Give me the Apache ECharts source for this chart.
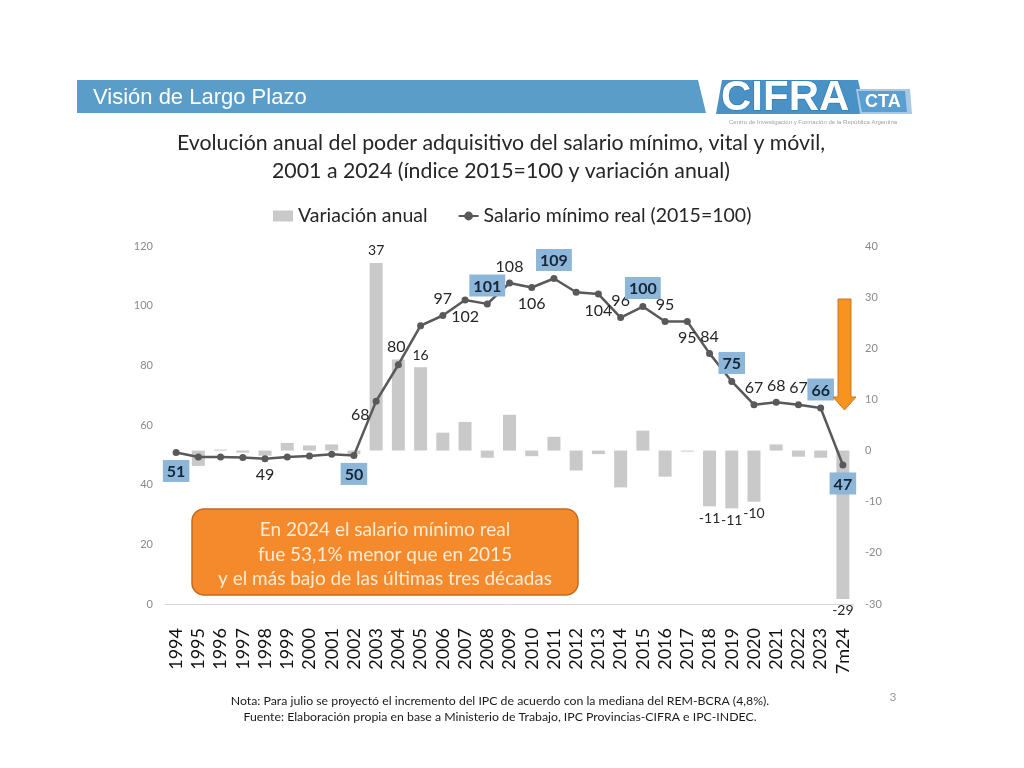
<!DOCTYPE html>
<html>
<head>
<meta charset="utf-8">
<script src="https://cdn.jsdelivr.net/npm/echarts@6/dist/echarts.min.js"></script>
<style>
html,body{margin:0;padding:0;background:#fff;}
#chart{width:1024px;height:768px;}
</style>
</head>
<body>
<div id="chart"></div>
<script>
// ---- Data ----
const categories = ['1994','1995','1996','1997','1998','1999','2000','2001','2002','2003','2004','2005','2006','2007','2008','2009','2010','2011','2012','2013','2014','2015','2016','2017','2018','2019','2020','2021','2022','2023','7m24'];
const variacionAnual = [0, -3.0, 0.2, -0.4, -1.0, 1.5, 1.0, 1.2, -0.7, 36.7, 17.8, 16.3, 3.5, 5.6, -1.4, 7.0, -1.1, 2.7, -3.9, -0.7, -7.2, 3.9, -5.1, -0.2, -10.9, -11.3, -10.0, 1.2, -1.2, -1.4, -29.0];
const salarioReal = [50.8, 49.3, 49.3, 49.1, 48.7, 49.3, 49.6, 50.2, 49.8, 68.0, 80.2, 93.3, 96.7, 101.9, 100.6, 107.6, 106.1, 109.1, 104.5, 103.9, 96.0, 99.7, 94.7, 94.7, 84.0, 74.6, 66.8, 67.6, 66.8, 65.7, 46.6];
const leftAxisTicks = [0, 20, 40, 60, 80, 100, 120];
const rightAxisTicks = [-30, -20, -10, 0, 10, 20, 30, 40];
const titleLines = ['Evolución anual del poder adquisitivo del salario mínimo, vital y móvil,', '2001 a 2024 (índice 2015=100 y variación anual)'];
const calloutLines = ['En 2024 el salario mínimo real', 'fue 53,1% menor que en 2015', 'y el más bajo de las últimas tres décadas'];
const notes = ['Nota: Para julio se proyectó el incremento del IPC de acuerdo con la mediana del REM-BCRA (4,8%).', 'Fuente: Elaboración propia en base a Ministerio de Trabajo, IPC Provincias-CIFRA e IPC-INDEC.'];

// ---- Label layout (styling, not data) ----
const lineLabelPos = {0:'bottom',4:'bottom',8:'bottom',9:'left',10:'top',12:'top',13:'bottom',14:'top',15:'top',16:'bottom',17:'top',19:'bottom',20:'top',21:'top',22:'top',23:'bottom',24:'top',25:'top',26:'top',27:'top',28:'top',29:'top',30:'bottom'};
const boxedIdx = [0,8,14,17,21,25,29,30];
const barLabelPos = {9:'top',11:'top',24:'bottom',25:'bottom',26:'bottom',30:'bottom'};

const FONT = 'Lato';

const lineData = salarioReal.map((v,i)=>{
  const pos = lineLabelPos[i];
  if(!pos) return {value:v, label:{show:false}};
  const boxed = boxedIdx.indexOf(i) >= 0;
  const lab = {show:true, position:pos, distance:5, fontSize:16, fontFamily:FONT, formatter:String(Math.round(v))};
  if(boxed){
    Object.assign(lab,{backgroundColor:'#8db6d8', color:'#14263a', fontWeight:'bold', padding:[4,4,2,4], distance:4});
  } else {
    lab.color = '#262626';
  }
  if(i===9){ lab.offset=[0,14]; lab.distance=3; }
  if(i===10){ lab.offset=[-2,0]; lab.distance=6; }
  return {value:v, label:lab};
});

const barData = variacionAnual.map((v,i)=>{
  const pos = barLabelPos[i];
  if(!pos) return {value:v, label:{show:false}};
  return {value:v, label:{show:true, position:pos, distance:5, fontSize:14, color:'#262626', fontFamily:FONT, formatter:String(Math.round(v))}};
});

const chart = echarts.init(document.getElementById('chart'), null, {renderer:'canvas'});

const option = {
  backgroundColor:'#ffffff',
  animation:false,
  textStyle:{fontFamily:FONT},
  grid:{left:165, right:170, top:246, bottom:164},
  legend:{
    left:268, top:201, itemWidth:20, itemHeight:11, itemGap:30,
    textStyle:{fontSize:19.5, color:'#262626', fontFamily:FONT},
    data:[{name:'Variación anual', icon:'rect'}, {name:'Salario mínimo real (2015=100)'}]
  },
  xAxis:{
    type:'category', data:categories,
    axisTick:{show:false},
    axisLine:{lineStyle:{color:'#d9d9d9', width:1}},
    axisLabel:{rotate:90, interval:0, fontSize:18, color:'#111', margin:24, fontFamily:FONT}
  },
  yAxis:[
    {type:'value', min:leftAxisTicks[0], max:leftAxisTicks[leftAxisTicks.length-1], interval:20,
     splitLine:{show:false}, axisLine:{show:false}, axisTick:{show:false},
     axisLabel:{fontSize:11, color:'#8a8a8a', margin:12, fontFamily:FONT}},
    {type:'value', min:rightAxisTicks[0], max:rightAxisTicks[rightAxisTicks.length-1], interval:10,
     splitLine:{show:false}, axisLine:{show:false}, axisTick:{show:false},
     axisLabel:{fontSize:11, color:'#8a8a8a', margin:11, fontFamily:FONT}}
  ],
  series:[
    {name:'Variación anual', type:'bar', yAxisIndex:1, data:barData, barWidth:13,
     itemStyle:{color:'#c9c9c9'}, z:1},
    {name:'Salario mínimo real (2015=100)', type:'line', yAxisIndex:0, data:lineData,
     symbol:'circle', symbolSize:7, lineStyle:{color:'#595959', width:2.5},
     itemStyle:{color:'#595959'}, z:5}
  ],
  graphic:[
    // header band
    {type:'polygon', shape:{points:[[77,80],[698,80],[706,113],[77,113]]}, style:{fill:'#5a9dc8'}},
    {type:'text', x:93, y:98, style:{text:'Visión de Largo Plazo', fill:'#ffffff', fontSize:22, fontFamily:'Liberation Sans', verticalAlign:'middle'}},
    // logo
    {type:'polygon', shape:{points:[[722,80],[858,80],[866,114],[716,114]]}, style:{fill:'#4a92c6'}},
    {type:'polygon', shape:{points:[[856,89],[910,89],[912,114],[860,114]]}, style:{fill:'#a7c9e6'}},
    {type:'polygon', shape:{points:[[858,91],[905,91],[907,112],[862,112]]}, style:{fill:'#5b9fd2'}},
    {type:'text', x:721, y:98, style:{text:'CIFRA', fill:'#ffffff', fontSize:42, fontWeight:'bold', fontFamily:'Liberation Sans', stroke:'#2f7fb8', lineWidth:1.5, verticalAlign:'middle'}},
    {type:'text', x:865, y:102, style:{text:'CTA', fill:'#ffffff', fontSize:18, fontWeight:'bold', fontFamily:'Liberation Sans', verticalAlign:'middle'}},
    {type:'text', left:729, top:119, style:{text:'Centro de Investigación y Formación de la República Argentina', fill:'#a0a0a0', fontSize:6, fontFamily:'Liberation Sans'}},
    // title
    {type:'text', x:501, y:143, style:{text:titleLines[0], fill:'#262626', fontSize:21.3, fontFamily:FONT, align:'center', verticalAlign:'middle'}},
    {type:'text', x:501, y:171, style:{text:titleLines[1], fill:'#262626', fontSize:21.3, fontFamily:FONT, align:'center', verticalAlign:'middle'}},
    // callout
    {type:'rect', shape:{x:192, y:509, width:386, height:86, r:12}, style:{fill:'#f58a2c', stroke:'#c56a1e', lineWidth:1.5}, z:10},
    {type:'text', x:385, y:530, z:11, style:{text:calloutLines[0], fill:'#fdebd6', fontSize:19, fontFamily:FONT, align:'center', verticalAlign:'middle'}},
    {type:'text', x:385, y:555, z:11, style:{text:calloutLines[1], fill:'#fdebd6', fontSize:19, fontFamily:FONT, align:'center', verticalAlign:'middle'}},
    {type:'text', x:385, y:579, z:11, style:{text:calloutLines[2], fill:'#fdebd6', fontSize:19, fontFamily:FONT, align:'center', verticalAlign:'middle'}},
    // arrow
    {type:'polygon', z:10, shape:{points:[[838,299],[851,299],[851,397],[856,397],[844.5,410],[833,397],[838,397]]}, style:{fill:'#f7931e', stroke:'#c47a22', lineWidth:1}},
    // notes
    {type:'text', x:500, y:701, style:{text:notes[0], fill:'#1a1a1a', fontSize:12.3, fontFamily:FONT, align:'center', verticalAlign:'middle'}},
    {type:'text', x:500, y:717, style:{text:notes[1], fill:'#1a1a1a', fontSize:12.3, fontFamily:FONT, align:'center', verticalAlign:'middle'}},
    {type:'text', x:893, y:697, style:{text:'3', fill:'#9a9a9a', fontSize:12, fontFamily:FONT, align:'center', verticalAlign:'middle'}}
  ]
};
chart.setOption(option);
</script>
</body>
</html>
